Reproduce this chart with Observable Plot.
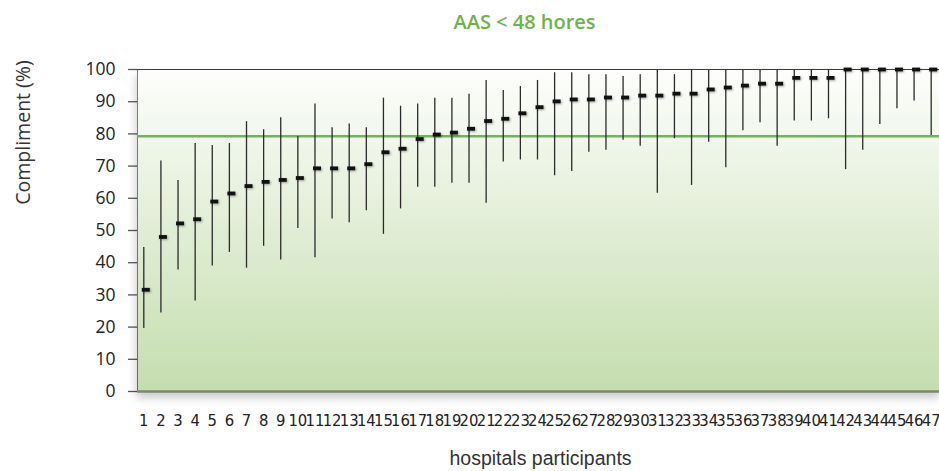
<!DOCTYPE html>
<html>
<head>
<meta charset="utf-8">
<script src="https://cdn.jsdelivr.net/npm/d3@7"></script>
<script src="https://cdn.jsdelivr.net/npm/@observablehq/plot@0.6"></script>
<style>
  body { margin: 0; background: #fff; }
  #chart svg { display: block; overflow: visible; }
  #chart [aria-label^="y-axis"] text { font-family: "Open Sans", sans-serif; font-size: 17.5px; fill: #222; }
  #chart [aria-label^="y-axis"] line, #chart [aria-label^="y-axis"] path { stroke: #555; stroke-width: 1.3px; }
  #chart [aria-label^="x-axis"] text { font-family: "Liberation Sans Narrow", "DejaVu Sans Condensed", sans-serif; font-stretch: condensed; font-size: 16.5px; fill: #222; }
  #chart [aria-label="frame"] { filter: drop-shadow(0px 6px 5px rgba(0,0,0,0.22)); }
  #chart [aria-label="dot"] { filter: drop-shadow(1px 1px 0.8px rgba(0,0,0,0.35)); }
</style>
</head>
<body>
<div id="chart"></div>
<script>
// Hospitals taking part (x categories)
const hospitals = [1,2,3,4,5,6,7,8,9,10,11,12,13,14,15,16,17,18,19,20,21,22,23,24,
  25,26,27,28,29,30,31,32,33,34,35,36,37,38,39,40,41,42,43,44,45,46,47];

// Compliance (%) per hospital: central value and interval bounds
const median = [31.6,48.0,52.2,53.5,59.0,61.5,63.8,65.1,65.7,66.3,69.3,69.3,69.3,70.6,74.3,75.4,
  78.4,79.8,80.4,81.6,84.0,84.7,86.4,88.3,90.1,90.7,90.7,91.3,91.3,91.9,91.9,92.5,92.5,93.8,
  94.4,95.0,95.6,95.6,97.4,97.4,97.4,100,100,100,100,100,100];
const low = [19.6,24.4,37.7,28.1,39.0,43.2,38.3,45.1,40.8,50.6,41.5,53.6,52.4,56.1,48.8,56.7,
  63.4,63.4,64.7,64.7,58.5,71.3,71.9,71.9,67.0,68.3,74.3,74.9,78.0,76.2,61.6,78.5,64.0,77.4,
  69.5,81.0,83.5,76.2,84.0,84.0,84.7,68.9,74.9,82.9,87.8,90.2,79.5];
const high = [44.7,71.6,65.5,77.0,76.4,77.0,83.8,81.3,85.0,79.2,89.3,81.9,83.1,81.9,91.1,88.6,
  89.3,91.1,91.1,92.3,96.6,93.5,94.7,96.6,99.0,99.0,98.4,98.4,97.8,98.4,100,98.4,100,99.7,
  100,99.7,99.7,100,100,100,100,100,100,100,100,100,100];

// Compliance target line and y-axis ticks
const target = 79.3;
const yTicks = [0,10,20,30,40,50,60,70,80,90,100];

const titleText = "AAS < 48 hores";
const yLabel = "Compliment (%)";
const xLabel = "hospitals participants";

const rows = hospitals.map((h, i) => ({h, med: median[i], low: low[i], high: high[i]}));

// Small horizontal bar used as the marker for the central value
const barSymbol = {draw(ctx) { ctx.rect(-4, -1.9, 8, 3.8); }};

// Gradient definition for the plot background
const defs = () => {
  const d = d3.create("svg:defs");
  const g = d.append("linearGradient").attr("id", "plot-bg")
    .attr("x1", 0).attr("y1", 0).attr("x2", 0).attr("y2", 1);
  g.append("stop").attr("offset", "0%").attr("stop-color", "#fdfefc");
  g.append("stop").attr("offset", "100%").attr("stop-color", "#c4ddae");
  return d.node();
};

const chart = Plot.plot({
  width: 939,
  height: 471,
  marginLeft: 137,
  marginRight: 0,
  marginTop: 69,
  marginBottom: 80,
  x: {type: "linear", domain: [0.632, 47.485], ticks: hospitals, tickFormat: "d", tickSize: 0, tickPadding: 23, label: null},
  y: {domain: [0, 100], ticks: yTicks, tickSize: 9, tickPadding: 13, label: null, line: true},
  marks: [
    defs,
    Plot.frame({fill: "url(#plot-bg)", stroke: "none"}),
    Plot.ruleY([100], {stroke: "#3a3a3a", strokeWidth: 1.2}),
    Plot.ruleY([0], {stroke: "#7b8773", strokeWidth: 2.5}),
    Plot.ruleY([target], {stroke: "#6cb84a", strokeWidth: 2.5}),
    Plot.ruleX(rows, {x: "h", y1: "low", y2: "high", stroke: "#2b2b2b", strokeWidth: 1.3}),
    Plot.dot(rows, {x: "h", y: "med", symbol: barSymbol, fill: "#111", stroke: "none", dx: 2}),
    Plot.text([titleText], {frameAnchor: "top", dx: -14, dy: -47, text: d => d,
      textAnchor: "middle", lineAnchor: "middle",
      fontFamily: "Open Sans, sans-serif", fontSize: 20, fontWeight: 600, fill: "#6ab545"}),
    Plot.text([yLabel], {frameAnchor: "top-left", dx: -114, dy: 63, rotate: -90, text: d => d,
      textAnchor: "middle", lineAnchor: "middle",
      fontFamily: "Open Sans, sans-serif", fontSize: 19.5, fill: "#333"}),
    Plot.text([xLabel], {frameAnchor: "bottom", dx: 2, dy: 67, text: d => d,
      textAnchor: "middle", lineAnchor: "middle",
      fontFamily: "Liberation Sans, Arial, sans-serif", fontSize: 19.5, fill: "#333"})
  ]
});

document.getElementById("chart").appendChild(chart);
</script>
</body>
</html>
